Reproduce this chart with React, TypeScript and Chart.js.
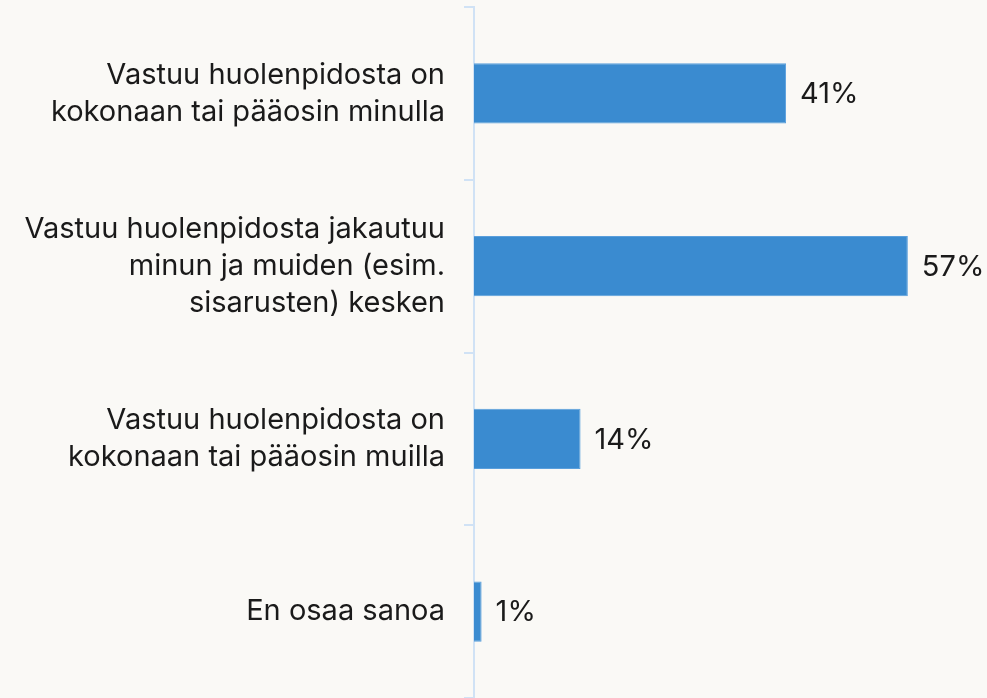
import React, { useEffect, useRef } from "react";
import { Chart, registerables } from "chart.js";

Chart.register(...registerables);

const categories: string[][] = [
  ["Vastuu huolenpidosta on", "kokonaan tai pääosin minulla"],
  ["Vastuu huolenpidosta jakautuu", "minun ja muiden (esim.", "sisarusten) kesken"],
  ["Vastuu huolenpidosta on", "kokonaan tai pääosin muilla"],
  ["En osaa sanoa"],
];
const values: number[] = [41, 57, 14, 1];
const valueLabels: string[] = ["41%", "57%", "14%", "1%"];

const FONT = "Inter, 'Noto Sans', sans-serif";

const labelPlugin = {
  id: "valueLabels",
  afterDatasetsDraw(chart: any) {
    const { ctx } = chart;
    const meta = chart.getDatasetMeta(0);
    ctx.save();
    ctx.font = `29px ${FONT}`;
    ctx.fillStyle = "#1a1a1a";
    ctx.textAlign = "left";
    ctx.textBaseline = "middle";
    meta.data.forEach((bar: any, i: number) => {
      ctx.fillText(valueLabels[i], bar.x + 14, bar.y + 1);
    });
    ctx.restore();
  },
};

export default function App() {
  const ref = useRef<HTMLCanvasElement>(null);
  useEffect(() => {
    if (!ref.current) return;
    const chart = new Chart(ref.current, {
      type: "bar",
      data: {
        labels: categories,
        datasets: [
          {
            data: values,
            backgroundColor: "#3a8bd0",
            borderColor: "#5a9fdc",
            borderWidth: 1,
            barPercentage: 0.7,
            categoryPercentage: 0.5,
          },
        ],
      },
      options: {
        indexAxis: "y",
        animation: false,
        responsive: false,
        maintainAspectRatio: false,
        layout: { padding: { top: 7, bottom: 0, left: 0, right: 0 } },
        plugins: {
          legend: { display: false },
          tooltip: { enabled: false },
        },
        scales: {
          x: {
            display: false,
            min: 0,
            max: 67.4,
          },
          y: {
            afterFit(scale: any) {
              scale.width = 474;
              scale.paddingTop = 0;
              scale.paddingBottom = 0;
            },
            border: { display: true, color: "#d0e2f5", width: 2 },
            grid: {
              offset: true,
              drawOnChartArea: false,
              drawTicks: true,
              tickLength: 10,
              color: "#d0e2f5",
              lineWidth: 2,
            },
            ticks: {
              color: "#1a1a1a",
              padding: 19,
              font: { family: FONT, size: 29, lineHeight: 1.28 },
            },
          },
        },
      },
      plugins: [labelPlugin],
    });
    return () => chart.destroy();
  }, []);
  return (
    <div
      style={{
        position: "fixed",
        left: 0,
        top: 0,
        width: 987,
        height: 698,
        background: "#faf9f6",
      }}
    >
      <canvas ref={ref} width={987} height={698} style={{ display: "block" }} />
    </div>
  );
}
